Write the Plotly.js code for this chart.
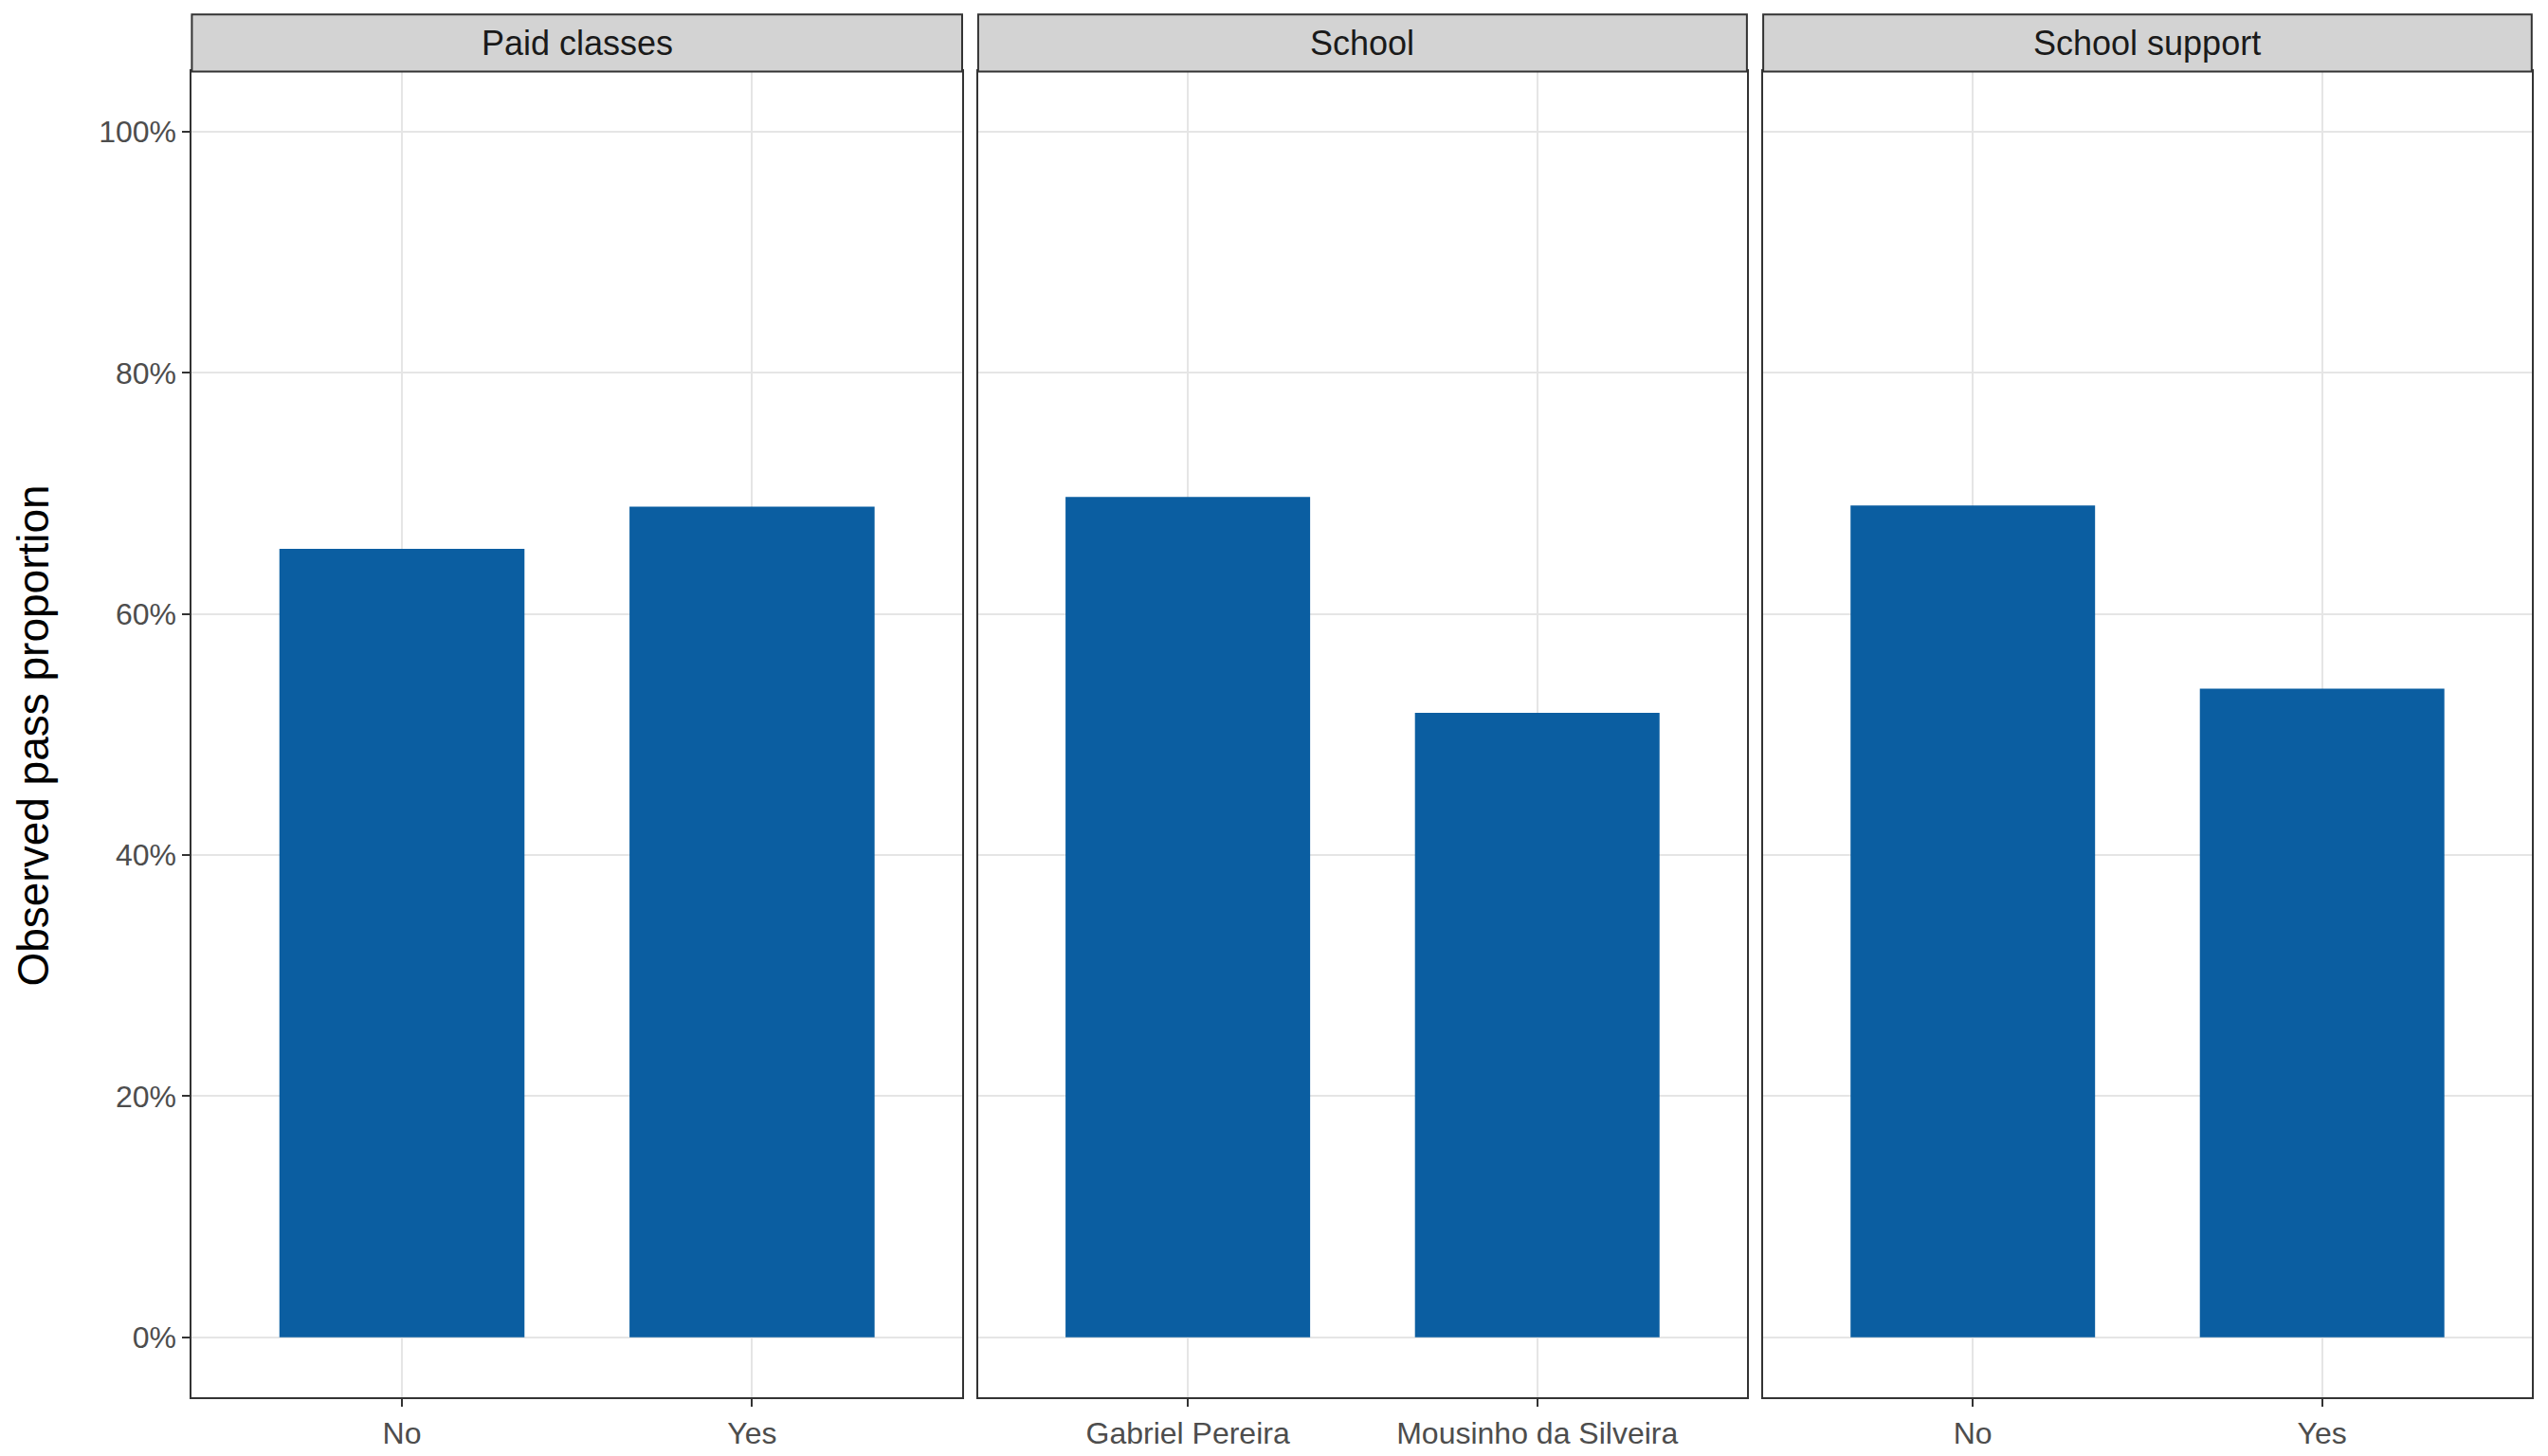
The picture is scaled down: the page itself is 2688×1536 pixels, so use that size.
<!DOCTYPE html>
<html><head><meta charset="utf-8">
<script src="https://cdn.plot.ly/plotly-3.0.1.min.js"></script>
<style>body{margin:0}#plot{width:2688px;height:1536px}</style>
</head><body><div id="plot"></div>
<script>
var panels = ['Paid classes', 'School', 'School support'];
var cats = [['No', 'Yes'], ['Gabriel Pereira', 'Mousinho da Silveira'], ['No', 'Yes']];
var passRate = [[0.654, 0.689], [0.697, 0.518], [0.690, 0.538]];

var xDomains = [[0.0753, 0.3776], [0.3839, 0.6856], [0.692, 0.9936]];
var yDomain = [0.0402, 0.9509];
var font = {family: 'Liberation Sans, Arial, sans-serif'};

var data = [];
var layout = {
  width: 2688, height: 1536, margin: {l: 0, r: 0, t: 0, b: 0},
  paper_bgcolor: 'white', plot_bgcolor: 'white', showlegend: false,
  font: font, bargap: 0.3, shapes: [], annotations: []
};

panels.forEach(function (p, i) {
  var s = i === 0 ? '' : String(i + 1);
  data.push({type: 'bar', x: cats[i], y: passRate[i], xaxis: 'x' + s, yaxis: 'y' + s,
    marker: {color: '#0B5EA1'}, hoverinfo: 'x+y'});
  layout['xaxis' + s] = {domain: xDomains[i], anchor: 'y' + s, range: [-0.6, 1.6],
    showline: true, mirror: true,
    linecolor: '#333', linewidth: 2, showgrid: true, gridcolor: '#E5E5E5', gridwidth: 2,
    ticks: 'outside', ticklen: 8, tickcolor: '#333', tickwidth: 2,
    tickfont: {size: 32, color: '#4D4D4D'}, automargin: false};
  layout['yaxis' + s] = {domain: yDomain, anchor: 'x' + s, range: [-0.05, 1.05],
    tickvals: [0, 0.2, 0.4, 0.6, 0.8, 1], tickformat: '.0%', showticklabels: i === 0,
    showline: true, mirror: true, linecolor: '#333', linewidth: 2, zeroline: false,
    showgrid: true, gridcolor: '#E5E5E5', gridwidth: 2,
    ticks: i === 0 ? 'outside' : '', ticklen: 8, tickcolor: '#333', tickwidth: 2,
    tickfont: {size: 32, color: '#4D4D4D'}, automargin: false};
  layout.shapes.push({type: 'rect', xref: 'paper', yref: 'paper',
    x0: xDomains[i][0], x1: xDomains[i][1], y0: yDomain[1], y1: 0.99,
    fillcolor: '#D3D3D3', line: {color: '#333', width: 2}});
  layout.annotations.push({xref: 'paper', yref: 'paper', x: (xDomains[i][0] + xDomains[i][1]) / 2,
    y: (yDomain[1] + 0.99) / 2, xanchor: 'center', yanchor: 'middle', text: p,
    showarrow: false, font: {size: 36, color: '#1A1A1A'}});
});
layout.annotations.push({xref: 'paper', yref: 'paper', x: 0.013, y: 0.495, textangle: -90,
  xanchor: 'center', yanchor: 'middle',
  text: 'Observed pass proportion', showarrow: false, font: {size: 46, color: '#000'}});

Plotly.newPlot('plot', data, layout, {displayModeBar: false});
</script></body></html>
